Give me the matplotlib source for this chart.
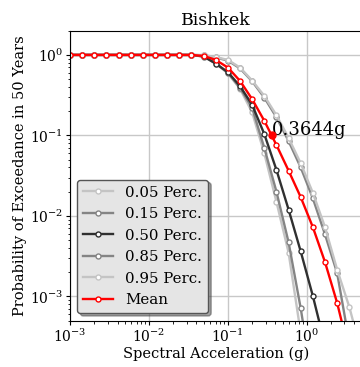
import matplotlib
matplotlib.use('Agg')
import matplotlib.pyplot as plt

plt.rcParams['font.family'] = 'DejaVu Serif'
plt.rcParams['mathtext.fontset'] = 'dejavuserif'

# spectral acceleration grid (g)
sa = [0.001, 0.001426, 0.002032, 0.002897, 0.004125, 0.005878, 0.008377,
      0.01194, 0.01702, 0.02425, 0.03456, 0.04924, 0.07017, 0.1, 0.1425,
      0.2031, 0.2894, 0.4125, 0.5878, 0.8377, 1.194, 1.701, 2.424, 3.455,
      4.924, 7.017, 10.0]

ones = [1.0] * 11
p05 = ones + [0.95, 0.78, 0.59, 0.38, 0.193, 0.06, 0.015, 0.0035, 0.00035,
              3e-5, 2e-6, 1e-7, 1e-8, 1e-9, 1e-10, 1e-11]
p15 = ones + [0.955, 0.79, 0.60, 0.39, 0.22, 0.07, 0.02, 0.0047, 0.00071,
              8e-5, 6e-6, 4e-7, 2e-8, 1e-9, 1e-10, 1e-11]
p50 = ones + [0.96, 0.78, 0.61, 0.41, 0.24, 0.104, 0.0373, 0.012, 0.00362,
              0.00101, 2.5e-4, 5e-5, 8e-6, 1e-6, 1e-7, 1e-8]
p85 = ones + [0.99, 0.93, 0.85, 0.68, 0.47, 0.295, 0.168, 0.085, 0.04,
              0.0165, 0.0059, 0.00195, 2.7e-4, 4e-5, 5e-6, 5e-7]
p95 = ones + [0.995, 0.94, 0.867, 0.697, 0.48, 0.31, 0.178, 0.093, 0.045,
              0.0193, 0.00724, 0.00215, 0.00074, 2e-4, 4e-5, 6e-6]
mean = ones[:-1] + [0.999, 0.972, 0.867, 0.697, 0.476, 0.282, 0.152, 0.076,
                    0.0365, 0.0171, 0.00724, 0.00267, 0.00083, 2e-4, 5e-5,
                    1e-5, 2e-6]

labels = ['0.05 Perc.', '0.15 Perc.', '0.50 Perc.', '0.85 Perc.', '0.95 Perc.', 'Mean']
colors = ['#c4c4c4', '#848484', '#303030', '#848484', '#c4c4c4', '#ff0000']

sa_10 = 0.3644   # 10% in 50 years
poe_10 = 0.1

fig = plt.figure(figsize=(3.6, 3.67), dpi=100)
ax = fig.add_axes([0.1944, 0.1262, 0.8111, 0.7902])

for vals, lab, col in zip([p05, p15, p50, p85, p95, mean], labels, colors):
    ax.plot(sa, vals, color=col, linewidth=1.7, marker='o', markersize=3.6,
            markerfacecolor='white', markeredgecolor=col, markeredgewidth=1.0,
            label=lab)

ax.plot([sa_10], [poe_10], 'o', color='red', markersize=5, zorder=5)
ax.text(sa_10, poe_10, f'{sa_10:.4f}g', fontsize=13, ha='left', va='baseline')

ax.set_xscale('log')
ax.set_yscale('log')
ax.set_xlim(1e-3, 5)
ax.set_ylim(5e-4, 2)

ax.set_title('Bishkek', fontsize=12.5, pad=4)
ax.set_xlabel('Spectral Acceleration (g)', fontsize=10.5, labelpad=1)
ax.set_ylabel('Probability of Exceedance in 50 Years', fontsize=10.5, labelpad=2)
ax.tick_params(which='major', labelsize=10, length=3, pad=2)
ax.tick_params(which='minor', length=1.8)

ax.grid(True, which='major', color='#c8c8c8', linewidth=1.0)
ax.set_axisbelow(True)

leg = ax.legend(loc='lower left', fontsize=10.8, fancybox=True, shadow=True,
                labelspacing=0.5, framealpha=1)
leg.get_frame().set_facecolor('#e5e5e5')
leg.get_frame().set_edgecolor('#555555')

fig.savefig('out.png', dpi=100, facecolor='white')
